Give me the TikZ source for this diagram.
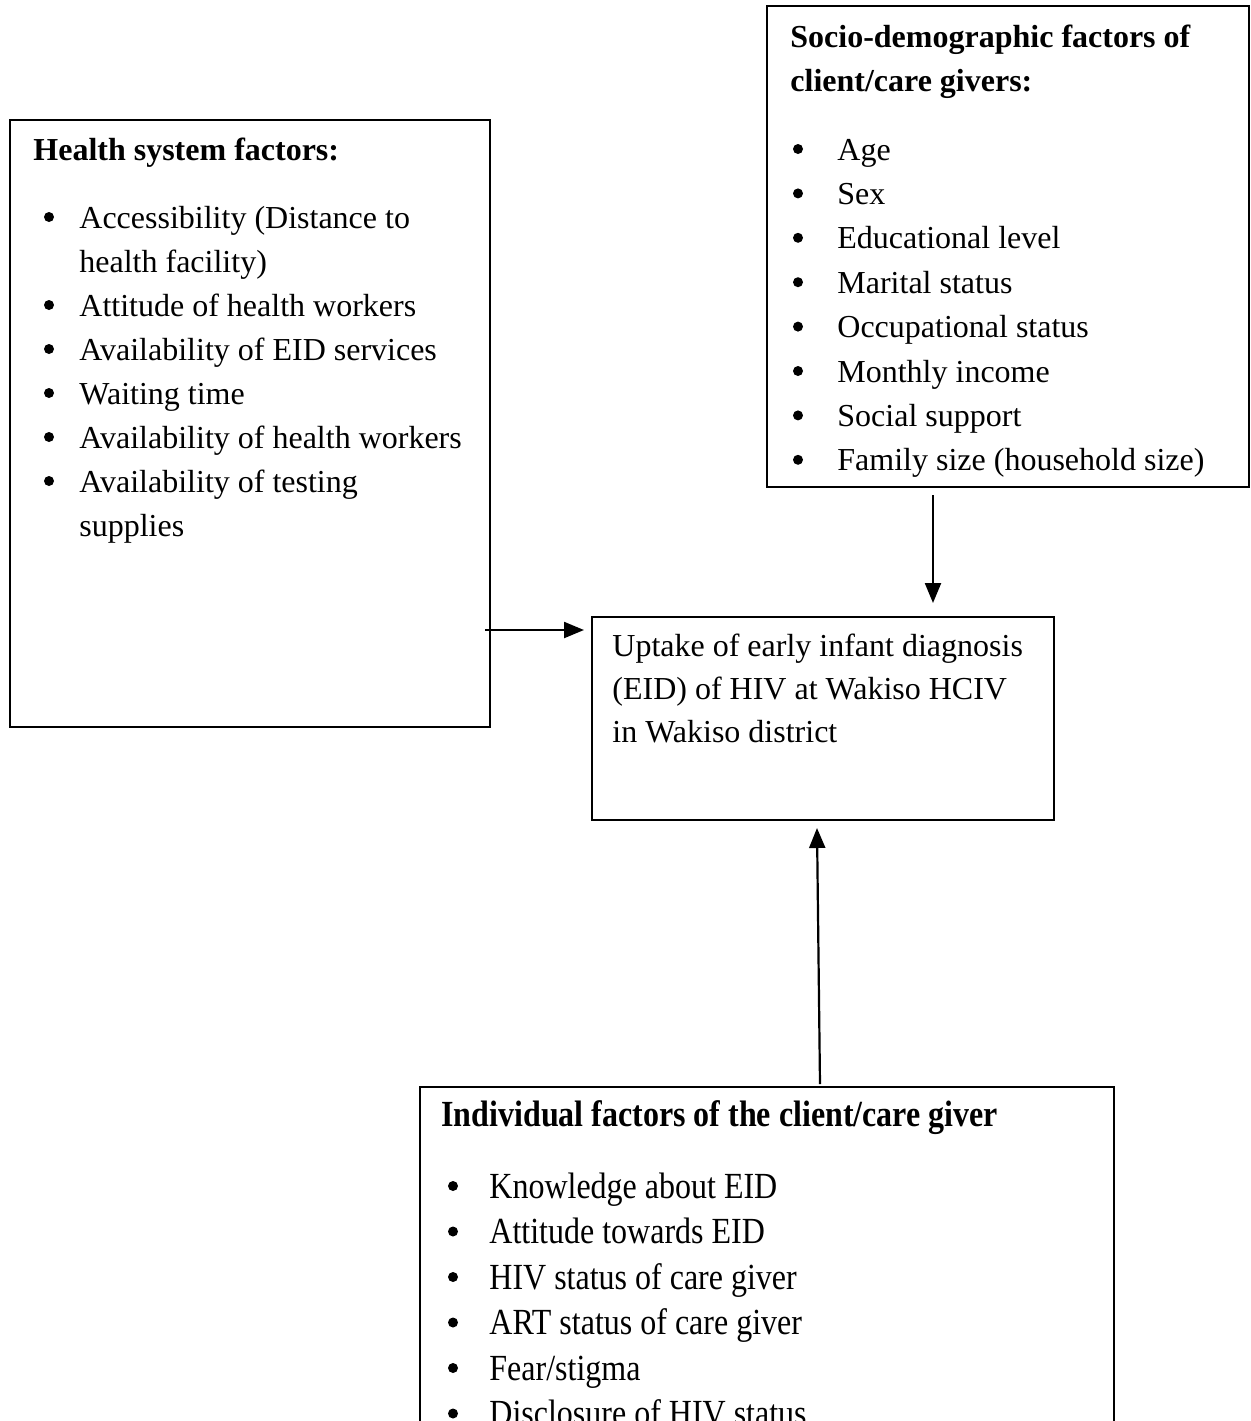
\documentclass[tikz,border=0pt]{standalone}
\usepackage{fontspec}
\setmainfont{Liberation Serif}
\usetikzlibrary{arrows.meta,fit}
\begin{document}
\begin{tikzpicture}[x=0.5pt,y=-0.5pt,
  box/.style={draw, line width=1pt, inner sep=0pt},
  txt/.style={anchor=base west, inner sep=0pt, font=\fontsize{16}{19}\selectfont},
  ttl/.style={txt, font=\fontsize{16}{19}\selectfont\bfseries},
  bul/.style={circle, fill, inner sep=0pt, minimum size=5pt},
  arr/.style={line width=1.1pt, -{Triangle[length=10pt,width=8pt]}}]
\useasboundingbox (0,0) rectangle (1251,1421);
\clip (0,0) rectangle (1251,1421);
% boxes
\node[box, fit={(10,120)(490,727)}] (hs) {};
\node[box, fit={(767,6)(1249,487)}] (sd) {};
\node[box, fit={(592,617)(1054,820)}] (up) {};
\node[box, fit={(420,1087)(1114,1480)}] (ind) {};
% health system factors
\node[ttl] (hst) at (33,160) {Health system factors:};
\foreach \y/\t/\b [count=\i] in {228/Accessibility (Distance to/1, 272/health facility)/0, 316/Attitude of health workers/1, 360/Availability of EID services/1, 404/Waiting time/1, 448/Availability of health workers/1, 492/Availability of testing/1, 536/supplies/0}{
  \node[txt] (hsi\i) at (79,\y) {\t};
  \ifnum\b=1 \node[bul] (hsb\i) at (49,\y-11) {};\fi
}
% socio-demographic
\node[ttl] (sdt1) at (790,47) {Socio-demographic factors of};
\node[ttl] (sdt2) at (790,91) {client/care givers:};
\foreach \t [count=\i from 0] in {Age, Sex, Educational level, Marital status, Occupational status, Monthly income, Social support, Family size (household size)}{
  \node[txt] (sdi\i) at (837,160+44.4*\i) {\t};
  \node[bul] (sdb\i) at (798,160+44.4*\i-11) {};
}
% uptake
\node[txt] (up1) at (612,656) {Uptake of early infant diagnosis};
\node[txt] (up2) at (612,699) {(EID) of HIV at Wakiso HCIV};
\node[txt] (up3) at (612,742) {in Wakiso district};
% individual factors
\node[ttl] (indt) at (441,1126) {\scalebox{1}[1.15]{Individual factors of the client/care giver}};
\foreach \t [count=\i from 0] in {Knowledge about EID, Attitude towards EID, HIV status of care giver, ART status of care giver, Fear/stigma, Disclosure of HIV status}{
  \node[txt] (indi\i) at (489,1198+45.5*\i) {\scalebox{1}[1.15]{\t}};
  \node[bul] (indb\i) at (453,1198+45.5*\i-12) {};
}
% connectors
\coordinate (h1) at (485,630);
\coordinate (s1) at (933,495);
\coordinate (i1) at (820,1084);
\coordinate (h2) at (584,630);
\coordinate (s2) at (933,603);
\coordinate (i2) at (817,828);
\draw[arr] (h1) -- (h2);
\draw[arr] (s1) -- (s2);
\draw[arr] (i1) -- (i2);
\end{tikzpicture}
\end{document}
